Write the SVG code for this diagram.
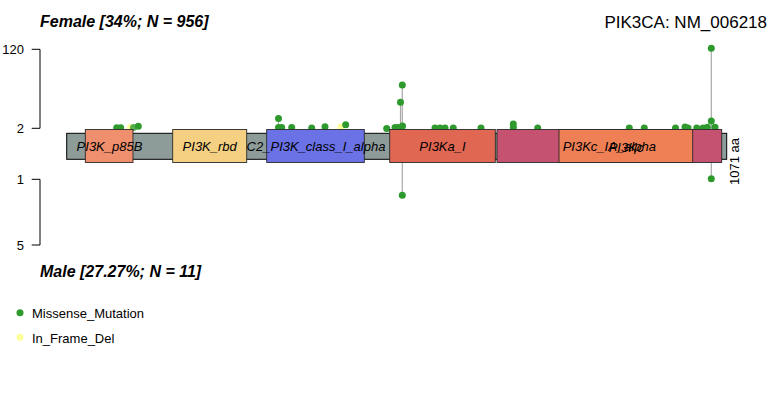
<svg xmlns="http://www.w3.org/2000/svg" width="775" height="410" viewBox="0 0 775 410">
<style>
text{font-family:"Liberation Sans",Arial,sans-serif;fill:#000}
.title{font-size:16px;font-weight:bold;font-style:italic}
.tick{font-size:13px;text-anchor:end}
.lab{font-size:13px;font-style:italic;text-anchor:middle}
.leg{font-size:13px}
.axis{stroke:#000;stroke-width:1;fill:none}
.dom{stroke:#2a2a2a;stroke-width:0.9}
.stick{stroke:#a8a8a8;stroke-width:1.2}
.mis{fill:#2E9A2E}
.ifd{fill:#FFFF99}
</style>
<rect width="775" height="410" fill="#fff"/>
<g id="titles">
<text class="title" x="40" y="26.5">Female [34%; N = 956]</text>
<text x="767" y="27.5" style="font-size:17px;text-anchor:end">PIK3CA: NM_006218</text>
<text class="title" x="40" y="276.5">Male [27.27%; N = 11]</text>
</g>
<g id="axes">
<path class="axis" d="M40,49.3V128.3M31.7,49.3H40M31.7,128.3H40"/>
<text class="tick" x="24" y="54">120</text>
<text class="tick" x="24" y="133">2</text>
<path class="axis" d="M40,179.3V245M31.7,179.3H40M31.7,245H40"/>
<text class="tick" x="24" y="184">1</text>
<text class="tick" x="24" y="250">5</text>
</g>
<g id="connectors">
<line class="stick" x1="278.5" y1="129.5" x2="278.5" y2="118.5"/>
<line class="stick" x1="400.5" y1="129.5" x2="400.5" y2="102.3"/>
<line class="stick" x1="402.3" y1="129.5" x2="402.3" y2="85"/>
<line class="stick" x1="513.3" y1="129.5" x2="513.3" y2="124"/>
<line class="stick" x1="711.3" y1="129.5" x2="711.3" y2="48.3"/>
<line class="stick" x1="402.3" y1="162.5" x2="402.3" y2="195.3"/>
<line class="stick" x1="711.3" y1="162.5" x2="711.3" y2="178.7"/>
</g>
<g id="mutations">
<circle class="mis" cx="116.7" cy="127.8" r="3.5"/>
<circle class="mis" cx="120.7" cy="127.8" r="3.5"/>
<circle class="ifd" cx="130.5" cy="127.5" r="3.5"/>
<circle class="mis" cx="133.5" cy="127.5" r="3.5" opacity="0.8"/>
<circle class="mis" cx="138.3" cy="126.3" r="3.5"/>
<circle class="mis" cx="278.5" cy="118.5" r="3.5"/>
<circle class="mis" cx="278.5" cy="127.5" r="3.5"/>
<circle class="mis" cx="281.7" cy="127.5" r="3.5"/>
<circle class="mis" cx="291.7" cy="127.5" r="3.5"/>
<circle class="mis" cx="311.7" cy="128" r="3.5"/>
<circle class="mis" cx="325" cy="126.7" r="3.5"/>
<circle class="ifd" cx="341" cy="127" r="3.5"/>
<circle class="mis" cx="345.7" cy="124.7" r="3.5"/>
<circle class="mis" cx="386.7" cy="128.5" r="3.5"/>
<circle class="mis" cx="395" cy="127.5" r="3.5"/>
<circle class="mis" cx="398.3" cy="127.5" r="3.5"/>
<circle class="mis" cx="402.5" cy="126" r="3.5"/>
<circle class="mis" cx="400.5" cy="102.3" r="3.5"/>
<circle class="mis" cx="402.3" cy="85" r="3.5"/>
<circle class="mis" cx="435" cy="128" r="3.5"/>
<circle class="mis" cx="440" cy="128" r="3.5"/>
<circle class="mis" cx="445" cy="128" r="3.5"/>
<circle class="mis" cx="453.3" cy="128" r="3.5"/>
<circle class="mis" cx="481" cy="128" r="3.5"/>
<circle class="mis" cx="513.3" cy="124" r="3.5"/>
<circle class="mis" cx="513.3" cy="127.5" r="3.5"/>
<circle class="mis" cx="537.7" cy="128" r="3.5"/>
<circle class="mis" cx="629.3" cy="128" r="3.5"/>
<circle class="mis" cx="644.3" cy="128" r="3.5"/>
<circle class="mis" cx="675.5" cy="128" r="3.5"/>
<circle class="mis" cx="685" cy="127" r="3.5"/>
<circle class="mis" cx="688" cy="128" r="3.5"/>
<circle class="mis" cx="696.7" cy="128" r="3.5"/>
<circle class="mis" cx="703" cy="128" r="3.5"/>
<circle class="mis" cx="707.3" cy="127.3" r="3.5"/>
<circle class="mis" cx="711.3" cy="121" r="3.5"/>
<circle class="mis" cx="711.3" cy="48.3" r="3.5"/>
<circle class="mis" cx="715" cy="127.3" r="3.5"/>
<circle class="mis" cx="402.3" cy="195.3" r="3.5"/>
<circle class="mis" cx="711.3" cy="178.7" r="3.5"/>
</g>
<g id="backbone">
<rect x="66.7" y="133.3" width="660" height="26" fill="#8E9C99" stroke="#000" stroke-width="1"/>
</g>
<g id="PI3K_p85B">
<rect class="dom" x="85.3" y="129.5" width="47.7" height="33" fill="#EF8F6E"/>
<text class="lab" x="109.5" y="150.5">PI3K_p85B</text>
</g>
<g id="PI3K_rbd">
<rect class="dom" x="172.7" y="129.5" width="74" height="33" fill="#F5D082"/>
<text class="lab" x="209.7" y="150.5">PI3K_rbd</text>
</g>
<g id="C2_PI3K_class_I_alpha">
<rect class="dom" x="266.7" y="129.5" width="97.6" height="33" fill="#6A72E6"/>
<text class="lab" x="316" y="150.5">C2_PI3K_class_I_alpha</text>
</g>
<g id="PI3Ka_I">
<rect class="dom" x="389.7" y="129.5" width="105.6" height="33" fill="#E06752"/>
<text class="lab" x="442.5" y="150.5">PI3Ka_I</text>
</g>
<g id="PI3Kc_IA_alpha">
<rect class="dom" x="497" y="129.5" width="224.7" height="33" fill="#C45270"/>
</g>
<g id="PI3Kc">
<rect class="dom" x="559" y="129.5" width="133.7" height="33" fill="#EF7F55"/>
</g>
<g id="domain-labels">
<text class="lab" x="609.3" y="150.5">PI3Kc_IA_alpha</text>
<text class="lab" x="626" y="151.5">PI3Kc</text>
</g>
<g id="length">
<text transform="translate(739,185) rotate(-90)" style="font-size:13px">1071 aa</text>
</g>
<g id="legend">
<circle class="mis" cx="20" cy="312.7" r="3.5"/>
<text class="leg" x="32" y="318">Missense_Mutation</text>
<circle class="ifd" cx="20" cy="337.3" r="3.5"/>
<text class="leg" x="32" y="342.5">In_Frame_Del</text>
</g>
</svg>
